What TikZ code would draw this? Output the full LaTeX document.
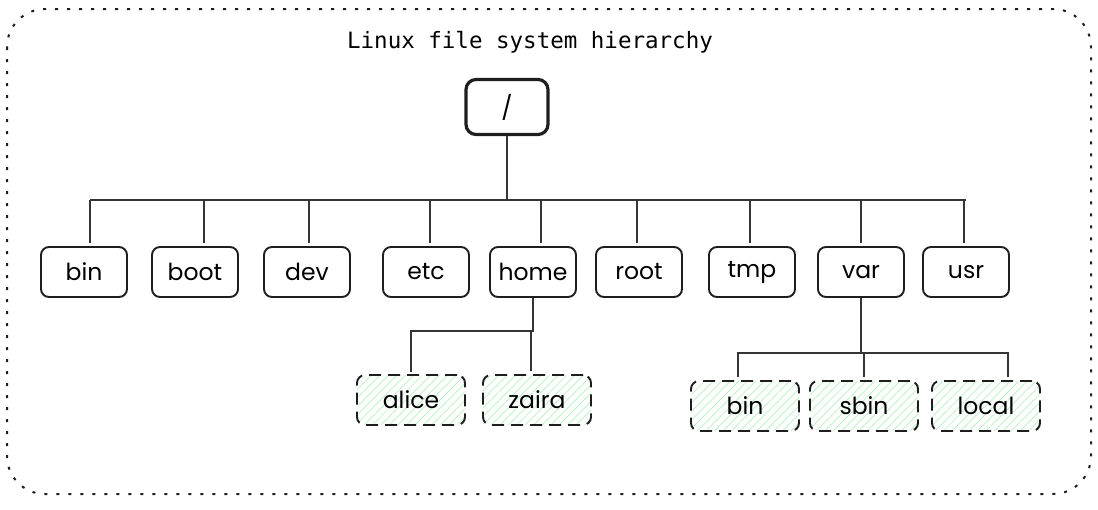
\documentclass[tikz,border=0pt]{standalone}
\usepackage{fontspec}
\setmainfont{Poppins}
\setmonofont{DejaVu Sans Mono}
\usetikzlibrary{patterns.meta}
\definecolor{ink}{HTML}{1E1E1E}
\definecolor{hatch}{HTML}{B2F2BB}
\tikzset{
  dirbox/.style={draw=ink, line width=1.9pt, rounded corners=8pt, minimum width=86pt, minimum height=50pt, inner sep=0pt, font=\fontsize{23.5}{27}\selectfont},
  subbox/.style={dirbox, dash pattern=on 12pt off 7pt, minimum width=108pt, pattern={Lines[angle=45,distance=6pt,line width=0.7pt]}, pattern color=hatch},
  link/.style={draw=ink!90, line width=1.5pt},
}
\begin{document}
\begin{tikzpicture}[x=1pt,y=-1pt]
  \useasboundingbox (0,0) rectangle (1098,509);
  \draw[ink, line width=2pt, dash pattern=on 3pt off 9pt, rounded corners=38pt] (7,9) rectangle (1091,494);
  \node[font=\ttfamily\fontsize{22.5}{26}\selectfont] (title) at (530,42) {Linux file system hierarchy};
  \node[dirbox, line width=3.2pt, minimum width=82pt, minimum height=55pt, rounded corners=10pt] (slash) at (507,107) {/};

  % first level
  \foreach \name/\x in {bin/84, boot/195, dev/307, etc/426, home/533, root/639, tmp/752, var/861, usr/966}
    \node[dirbox] (\name) at (\x,272) {\name};
  \coordinate (bus) at (510,200);
  \draw[link, line width=2.8pt] ([xshift=6pt]bin.north |- bus) -- (usr.north |- bus);
  \draw[link, line width=2pt] (slash.south) -- (slash.south |- bus);
  \foreach \name/\dx in {bin/6, boot/9, dev/2, etc/4, home/8, root/-2, tmp/-2, var/0, usr/-2}
    \draw[link, shorten >=3pt] ([xshift=\dx pt]\name.north |- bus) -- ([xshift=\dx pt]\name.north);

  % home
  \node[subbox] (alice) at (411,400) {alice};
  \node[subbox] (zaira) at (537,400) {zaira};
  \coordinate (hj) at (533,331);
  \draw[link, shorten <=3pt] (alice.north) |- (hj) -- (home.south);
  \draw[link, shorten <=3pt] ([xshift=-6pt]zaira.north) -- ([xshift=-6pt]zaira.north |- hj);

  % var
  \node[subbox] (vbin) at (745,406) {bin};
  \node[subbox] (sbin) at (864,406) {sbin};
  \node[subbox] (local) at (986,406) {local};
  \coordinate (vj) at (861,353);
  \draw[link] (var.south) -- (vj);
  \draw[link, shorten <=3pt] ([xshift=-7pt]vbin.north) |- (vj);
  \draw[link, shorten <=3pt] ([xshift=22pt]local.north) |- (vj);
  \draw[link, shorten <=3pt] (sbin.north) -- (sbin.north |- vj);
\end{tikzpicture}
\end{document}
